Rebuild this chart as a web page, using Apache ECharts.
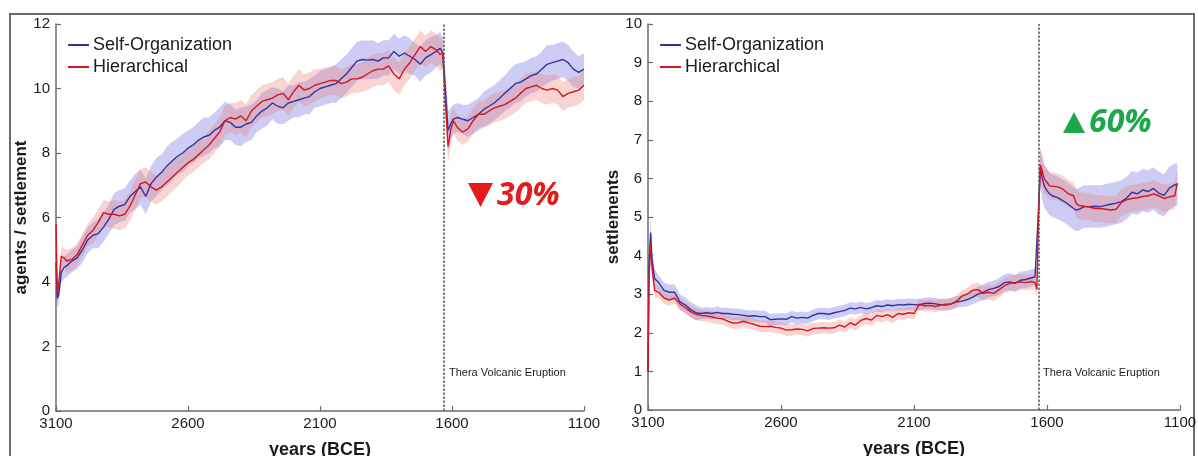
<!DOCTYPE html>
<html>
<head>
<meta charset="utf-8">
<script src="https://cdn.jsdelivr.net/npm/echarts@6/dist/echarts.min.js"></script>
<style>
html,body{margin:0;padding:0;background:#fff;}
#chart{width:1198px;height:456px;}
</style>
</head>
<body>
<div id="chart"></div>
<script>
// ---------- DATA ----------
const START_YEAR = 3100;
const ERUPTION_YEAR = 1632;
const xTickLabels = [3100, 2600, 2100, 1600, 1100];

// Left panel: agents / settlement
const leftYears = [
  3100, 3095, 3090, 3080, 3070, 3060, 3040, 3020, 3000, 2980,
  2960, 2940, 2920, 2900, 2880, 2860, 2840, 2820, 2800, 2780,
  2760, 2740, 2720, 2700, 2680, 2660, 2640, 2620, 2600, 2580,
  2560, 2540, 2520, 2500, 2480, 2460, 2440, 2420, 2400, 2380,
  2360, 2340, 2320, 2300, 2280, 2260, 2240, 2220, 2200, 2180,
  2160, 2140, 2120, 2100, 2080, 2060, 2040, 2020, 2000, 1980,
  1960, 1940, 1920, 1900, 1880, 1860, 1840, 1820, 1800, 1780,
  1760, 1740, 1720, 1700, 1680, 1660, 1645, 1635, 1625, 1615,
  1605, 1595, 1580, 1560, 1540, 1520, 1500, 1480, 1460, 1440,
  1420, 1400, 1380, 1360, 1340, 1320, 1300, 1280, 1260, 1240,
  1220, 1200, 1180, 1160, 1140, 1120, 1100
];
const leftSelfOrg = [
  4.6, 3.5, 3.6, 4.3, 4.45, 4.5, 4.65, 4.75, 5.0, 5.3,
  5.45, 5.5, 5.7, 5.95, 6.25, 6.35, 6.4, 6.65, 6.8, 6.95,
  6.65, 7.05, 7.25, 7.4, 7.6, 7.75, 7.9, 8.0, 8.15, 8.25,
  8.4, 8.5, 8.55, 8.7, 8.8, 9.0, 8.95, 8.8, 8.8, 8.9,
  8.95, 9.15, 9.3, 9.4, 9.55, 9.45, 9.4, 9.55, 9.6, 9.65,
  9.7, 9.75, 9.9, 10.0, 10.05, 10.1, 10.15, 10.3, 10.45, 10.65,
  10.85, 10.9, 10.88, 10.9, 10.85, 10.95, 10.95, 11.15, 11.0, 11.1,
  11.0, 10.9, 10.75, 10.95, 11.05, 11.15, 11.25, 11.1, 10.0, 8.7,
  8.9, 9.05, 9.1, 9.05, 9.0, 9.1, 9.2, 9.35, 9.45, 9.55,
  9.7, 9.85, 10.0, 10.15, 10.2, 10.3, 10.4, 10.45, 10.6, 10.75,
  10.8, 10.85, 10.9, 10.8, 10.6, 10.5, 10.6
];
const leftHier = [
  5.8, 3.6, 3.9, 4.8, 4.75, 4.65, 4.7, 4.85, 5.15, 5.45,
  5.6, 5.85, 6.15, 6.1, 6.1, 6.05, 6.1, 6.35, 6.7, 7.05,
  7.1, 6.95, 6.85, 6.95, 7.1, 7.25, 7.4, 7.55, 7.7, 7.8,
  7.95, 8.1, 8.25, 8.45, 8.65, 9.0, 9.1, 9.05, 9.15, 9.0,
  9.3, 9.45, 9.6, 9.65, 9.7, 9.8, 9.85, 9.65, 9.9, 10.1,
  9.95, 10.0, 10.1, 10.15, 10.2, 10.25, 10.25, 10.15, 10.2, 10.3,
  10.3, 10.35, 10.45, 10.55, 10.6, 10.6, 10.7, 10.45, 10.3, 10.6,
  10.8, 11.05, 11.3, 11.15, 11.3, 11.2, 11.05, 11.1, 9.6, 8.2,
  8.7, 9.0, 8.8, 8.65, 8.75, 9.0, 9.2, 9.2, 9.3, 9.4,
  9.45, 9.5, 9.6, 9.7, 9.85, 10.0, 10.05, 10.1, 10.0, 9.95,
  10.0, 9.95, 9.75, 9.85, 9.9, 9.95, 10.1
];
const leftSelfOrgSpread = [
  0.3, 0.3, 0.3, 0.35, 0.35, 0.35, 0.35, 0.35, 0.4, 0.4,
  0.4, 0.45, 0.45, 0.45, 0.5, 0.5, 0.5, 0.5, 0.55, 0.55,
  0.55, 0.55, 0.6, 0.55, 0.6, 0.6, 0.55, 0.6, 0.55, 0.55,
  0.55, 0.6, 0.55, 0.55, 0.6, 0.6, 0.55, 0.55, 0.6, 0.55,
  0.55, 0.5, 0.55, 0.55, 0.5, 0.55, 0.5, 0.55, 0.5, 0.55,
  0.5, 0.55, 0.5, 0.55, 0.55, 0.55, 0.6, 0.6, 0.6, 0.6,
  0.6, 0.6, 0.6, 0.6, 0.55, 0.55, 0.55, 0.55, 0.55, 0.55,
  0.55, 0.5, 0.55, 0.55, 0.55, 0.5, 0.5, 0.5, 0.6, 0.6,
  0.5, 0.45, 0.45, 0.45, 0.5, 0.5, 0.5, 0.55, 0.55, 0.55,
  0.55, 0.55, 0.6, 0.6, 0.6, 0.55, 0.55, 0.55, 0.55, 0.6,
  0.55, 0.55, 0.55, 0.55, 0.55, 0.5, 0.5
];
const leftHierSpread = [
  0.3, 0.3, 0.3, 0.3, 0.3, 0.35, 0.35, 0.35, 0.35, 0.35,
  0.4, 0.4, 0.4, 0.4, 0.45, 0.45, 0.45, 0.45, 0.45, 0.45,
  0.45, 0.45, 0.45, 0.45, 0.45, 0.45, 0.45, 0.4, 0.4, 0.4,
  0.4, 0.4, 0.45, 0.45, 0.45, 0.45, 0.45, 0.5, 0.5, 0.5,
  0.5, 0.5, 0.5, 0.5, 0.5, 0.5, 0.5, 0.5, 0.5, 0.5,
  0.5, 0.5, 0.5, 0.45, 0.45, 0.45, 0.45, 0.45, 0.45, 0.45,
  0.45, 0.45, 0.5, 0.5, 0.5, 0.5, 0.5, 0.5, 0.5, 0.5,
  0.5, 0.5, 0.5, 0.5, 0.5, 0.5, 0.5, 0.5, 0.5, 0.5,
  0.45, 0.4, 0.4, 0.4, 0.4, 0.4, 0.4, 0.4, 0.45, 0.45,
  0.45, 0.45, 0.45, 0.45, 0.45, 0.45, 0.45, 0.45, 0.45, 0.45,
  0.45, 0.45, 0.45, 0.45, 0.45, 0.45, 0.45
];

// Right panel: settlements
const rightYears = [
  3100, 3096, 3090, 3085, 3075, 3060, 3040, 3020, 3000, 2980,
  2960, 2940, 2920, 2900, 2880, 2860, 2840, 2820, 2800, 2780,
  2760, 2740, 2720, 2700, 2680, 2660, 2640, 2620, 2600, 2580,
  2560, 2540, 2520, 2500, 2480, 2460, 2440, 2420, 2400, 2380,
  2360, 2340, 2320, 2300, 2280, 2260, 2240, 2220, 2200, 2180,
  2160, 2140, 2120, 2100, 2080, 2060, 2040, 2020, 2000, 1980,
  1960, 1940, 1920, 1900, 1880, 1860, 1840, 1820, 1800, 1780,
  1760, 1740, 1720, 1700, 1680, 1660, 1645, 1638, 1632, 1625,
  1618, 1610, 1600, 1590, 1580, 1560, 1540, 1520, 1500, 1490,
  1480, 1460, 1440, 1420, 1400, 1380, 1360, 1340, 1320, 1300,
  1280, 1260, 1240, 1220, 1200, 1180, 1160, 1140, 1120, 1110
];
const rightSelfOrg = [
  1.0, 3.8, 4.6, 3.9, 3.4, 3.3, 3.1, 3.05, 3.05, 2.8,
  2.72, 2.6, 2.52, 2.5, 2.52, 2.5, 2.53, 2.5, 2.5, 2.48,
  2.47, 2.45, 2.43, 2.44, 2.42, 2.42, 2.34, 2.35, 2.36, 2.35,
  2.42, 2.38, 2.4, 2.38, 2.45, 2.5, 2.5, 2.48, 2.52, 2.55,
  2.58, 2.64, 2.62, 2.66, 2.62, 2.65, 2.7, 2.68, 2.72, 2.7,
  2.73, 2.72, 2.74, 2.73, 2.72, 2.76, 2.77, 2.75, 2.73, 2.72,
  2.75, 2.8, 2.82, 2.86, 2.92, 3.0, 3.05, 3.12, 3.15, 3.2,
  3.3, 3.32, 3.28, 3.36, 3.38, 3.42, 3.45, 3.48, 5.2, 6.3,
  6.0, 5.8, 5.68, 5.6, 5.55, 5.5, 5.42, 5.33, 5.22, 5.18,
  5.2, 5.27, 5.27, 5.28, 5.27, 5.3, 5.33, 5.36, 5.4, 5.5,
  5.64, 5.6, 5.7, 5.66, 5.74, 5.62, 5.56, 5.75, 5.83, 5.85
];
const rightHier = [
  1.0, 3.4, 4.3, 3.7, 3.1, 3.05, 2.9, 2.85, 2.9, 2.75,
  2.65, 2.55, 2.48, 2.45, 2.44, 2.41, 2.38, 2.36, 2.3, 2.25,
  2.26, 2.3, 2.25, 2.22, 2.17, 2.16, 2.17, 2.14, 2.12, 2.07,
  2.08, 2.1, 2.09, 2.05, 2.11, 2.12, 2.13, 2.12, 2.13, 2.2,
  2.15, 2.26, 2.2, 2.32, 2.37, 2.33, 2.45, 2.42, 2.47, 2.4,
  2.5, 2.48, 2.52, 2.5, 2.74, 2.7, 2.71, 2.68, 2.72, 2.74,
  2.75, 2.82, 2.95, 3.0, 3.1, 3.12, 3.02, 3.05, 3.02, 3.12,
  3.22, 3.28, 3.3, 3.32, 3.3, 3.33, 3.3, 3.12, 5.0, 6.35,
  6.2, 5.98, 5.9, 5.8, 5.8, 5.78, 5.72, 5.6, 5.55, 5.35,
  5.3, 5.28, 5.26, 5.22, 5.22, 5.2, 5.18, 5.2, 5.38, 5.45,
  5.48, 5.5, 5.53, 5.55, 5.6, 5.55, 5.48, 5.52, 5.55, 5.88
];
const rightSelfOrgSpread = [
  0.1, 0.3, 0.4, 0.3, 0.25, 0.2, 0.2, 0.2, 0.2, 0.2,
  0.2, 0.2, 0.2, 0.15, 0.15, 0.15, 0.15, 0.15, 0.15, 0.15,
  0.15, 0.15, 0.15, 0.15, 0.15, 0.15, 0.15, 0.15, 0.15, 0.15,
  0.15, 0.15, 0.15, 0.15, 0.15, 0.15, 0.15, 0.15, 0.15, 0.15,
  0.15, 0.15, 0.15, 0.15, 0.15, 0.15, 0.15, 0.15, 0.15, 0.15,
  0.15, 0.15, 0.15, 0.15, 0.15, 0.15, 0.15, 0.15, 0.15, 0.15,
  0.15, 0.15, 0.15, 0.18, 0.18, 0.2, 0.2, 0.2, 0.2, 0.22,
  0.22, 0.22, 0.22, 0.22, 0.22, 0.22, 0.22, 0.22, 0.4, 0.5,
  0.55, 0.55, 0.55, 0.55, 0.55, 0.55, 0.55, 0.55, 0.55, 0.55,
  0.55, 0.55, 0.55, 0.55, 0.55, 0.55, 0.55, 0.55, 0.55, 0.55,
  0.55, 0.55, 0.55, 0.55, 0.55, 0.55, 0.55, 0.55, 0.55, 0.55
];
const rightHierSpread = [
  0.1, 0.25, 0.3, 0.25, 0.2, 0.15, 0.15, 0.15, 0.15, 0.15,
  0.15, 0.15, 0.15, 0.15, 0.15, 0.15, 0.15, 0.15, 0.15, 0.15,
  0.15, 0.15, 0.15, 0.15, 0.15, 0.15, 0.15, 0.15, 0.15, 0.15,
  0.15, 0.15, 0.15, 0.15, 0.15, 0.15, 0.15, 0.15, 0.15, 0.15,
  0.15, 0.15, 0.15, 0.15, 0.15, 0.15, 0.15, 0.15, 0.15, 0.15,
  0.15, 0.15, 0.15, 0.15, 0.15, 0.15, 0.15, 0.15, 0.15, 0.15,
  0.15, 0.15, 0.15, 0.17, 0.17, 0.18, 0.18, 0.18, 0.2, 0.2,
  0.2, 0.2, 0.2, 0.2, 0.2, 0.2, 0.2, 0.2, 0.3, 0.4,
  0.4, 0.38, 0.36, 0.35, 0.35, 0.35, 0.35, 0.35, 0.35, 0.35,
  0.35, 0.35, 0.35, 0.35, 0.35, 0.35, 0.35, 0.35, 0.35, 0.35,
  0.35, 0.35, 0.35, 0.35, 0.35, 0.35, 0.35, 0.35, 0.35, 0.35
];

// ---------- STYLE ----------
const FONT = '"Liberation Sans", Arial, sans-serif';
const BLUE = '#33339c';
const RED = '#d4161e';
const BLUE_BAND = 'rgba(120,120,225,0.38)';
const RED_BAND = 'rgba(235,125,120,0.33)';
const AXIS_COLOR = '#6b6b6b';

function toX(y) { return START_YEAR - y; }
function lineData(years, vals) { return years.map((y, i) => [toX(y), vals[i]]); }

function bandSeries(idx, years, vals, spread, color) {
  return {
    type: 'custom', xAxisIndex: idx, yAxisIndex: idx, silent: true, z: 1, clip: true,
    data: years.map((y, i) => [toX(y), vals[i] - spread[i], vals[i] + spread[i]]),
    encode: { x: 0, y: [1, 2] },
    renderItem: function (params, api) {
      if (params.dataIndex !== 0) return null;
      const up = [], lo = [];
      for (let i = 0; i < years.length; i++) {
        up.push(api.coord([toX(years[i]), vals[i] + spread[i]]));
        lo.push(api.coord([toX(years[i]), vals[i] - spread[i]]));
      }
      return { type: 'polygon', shape: { points: up.concat(lo.reverse()) }, style: { fill: color } };
    }
  };
}

function lineSeries(idx, name, years, vals, color, withMark) {
  const s = {
    type: 'line', name: name, xAxisIndex: idx, yAxisIndex: idx,
    data: lineData(years, vals), showSymbol: false, symbol: 'none',
    lineStyle: { color: color, width: 1.4 }, itemStyle: { color: color },
    z: 3, silent: true, animation: false
  };
  if (withMark) {
    s.markLine = {
      silent: true, symbol: ['none', 'none'], animation: false,
      label: { show: false },
      lineStyle: { color: '#555', width: 1.5, type: [2.5, 1.5] },
      data: [{ xAxis: toX(ERUPTION_YEAR) }]
    };
  }
  return s;
}

function xAxis(idx) {
  return {
    type: 'value', gridIndex: idx, min: 0, max: START_YEAR - xTickLabels[xTickLabels.length - 1], interval: 500,
    name: 'years (BCE)', nameLocation: 'middle', nameGap: 30,
    nameTextStyle: { fontFamily: FONT, fontSize: 18, fontWeight: 'bold', color: '#1a1a1a' },
    axisLine: { show: true, lineStyle: { color: AXIS_COLOR, width: 1.5 } },
    axisTick: { show: true, inside: true, length: 5, lineStyle: { color: AXIS_COLOR, width: 1.2 } },
    axisLabel: { fontFamily: FONT, fontSize: 15, color: '#1a1a1a', margin: 5,
      formatter: v => String(START_YEAR - v) },
    splitLine: { show: false }
  };
}
function yAxis(idx, max, interval, name, gap) {
  return {
    type: 'value', gridIndex: idx, min: 0, max: max, interval: interval,
    name: name, nameLocation: 'middle', nameGap: gap,
    nameTextStyle: { fontFamily: FONT, fontSize: 17, fontWeight: 'bold', color: '#1a1a1a' },
    axisLine: { show: true, lineStyle: { color: AXIS_COLOR, width: 1.5 } },
    axisTick: { show: true, inside: true, length: 5, lineStyle: { color: AXIS_COLOR, width: 1.2 } },
    axisLabel: { fontFamily: FONT, fontSize: 15, color: '#1a1a1a', margin: 6 },
    splitLine: { show: false }
  };
}
function legend(left) {
  return {
    left: left, top: 36, padding: 0, orient: 'vertical', itemGap: 4, itemWidth: 21, itemHeight: 2,
    icon: 'rect', selectedMode: false,
    textStyle: { fontFamily: FONT, fontSize: 18, color: '#1a1a1a', padding: [0, 0, 0, -1] },
    data: ['Self-Organization', 'Hierarchical']
  };
}

const chart = echarts.init(document.getElementById('chart'), null, { renderer: 'canvas' });
chart.setOption({
  animation: false,
  backgroundColor: '#ffffff',
  grid: [
    { left: 56, right: 614, top: 24, bottom: 45, containLabel: false, outerBoundsMode: 'none' },
    { left: 648, right: 18, top: 24, bottom: 46, containLabel: false, outerBoundsMode: 'none' }
  ],
  xAxis: [xAxis(0), xAxis(1)],
  yAxis: [yAxis(0, 12, 2, 'agents / settlement', 26), yAxis(1, 10, 1, 'settlements', 22)],
  legend: [legend(68), legend(660)],
  series: [
    bandSeries(0, leftYears, leftSelfOrg, leftSelfOrgSpread, BLUE_BAND),
    bandSeries(0, leftYears, leftHier, leftHierSpread, RED_BAND),
    lineSeries(0, 'Self-Organization', leftYears, leftSelfOrg, BLUE, true),
    lineSeries(0, 'Hierarchical', leftYears, leftHier, RED, false),
    bandSeries(1, rightYears, rightSelfOrg, rightSelfOrgSpread, BLUE_BAND),
    bandSeries(1, rightYears, rightHier, rightHierSpread, RED_BAND),
    lineSeries(1, 'Self-Organization', rightYears, rightSelfOrg, BLUE, true),
    lineSeries(1, 'Hierarchical', rightYears, rightHier, RED, false)
  ],
  graphic: [
    { type: 'rect', silent: true, shape: { x: 10, y: 14, width: 1184, height: 460 },
      style: { fill: 'none', stroke: '#6a6a6a', lineWidth: 2 } },
    { type: 'polygon', silent: true, shape: { points: [[468, 183], [493, 183], [480.5, 207]] },
      style: { fill: '#e41a1c' } },
    { type: 'text', silent: true, x: 497, y: 196,
      style: { text: '30%', font: 'italic bold 32px "Open Sans"', fill: '#e41a1c', textVerticalAlign: 'middle', verticalAlign: 'middle' } },
    { type: 'polygon', silent: true, shape: { points: [[1074, 112], [1063, 133], [1085, 133]] },
      style: { fill: '#1ba84b' } },
    { type: 'text', silent: true, x: 1089, y: 123,
      style: { text: '60%', font: 'italic bold 32px "Open Sans"', fill: '#1ba84b', textVerticalAlign: 'middle', verticalAlign: 'middle' } },
    { type: 'text', silent: true, x: 449, y: 373,
      style: { text: 'Thera Volcanic Eruption', font: '11px "Liberation Sans"', fill: '#1a1a1a', textVerticalAlign: 'middle', verticalAlign: 'middle' } },
    { type: 'text', silent: true, x: 1043, y: 373,
      style: { text: 'Thera Volcanic Eruption', font: '11px "Liberation Sans"', fill: '#1a1a1a', textVerticalAlign: 'middle', verticalAlign: 'middle' } }
  ]
});
</script>
</body>
</html>
